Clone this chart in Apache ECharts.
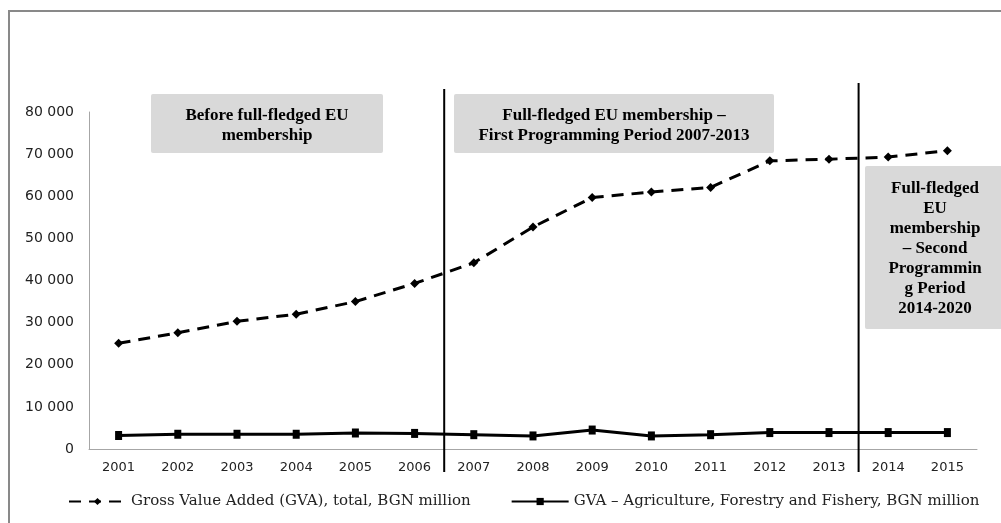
<!DOCTYPE html>
<html><head><meta charset="utf-8">
<script src="https://cdn.jsdelivr.net/npm/echarts@6/dist/echarts.min.js"></script>
<style>html,body{margin:0;padding:0;background:#fff}#c{width:1001px;height:523px}</style>
</head><body><div id="c"></div>
<script>
const years = ['2001','2002','2003','2004','2005','2006','2007','2008','2009','2010','2011','2012','2013','2014','2015'];
const gvaTotal = [25100, 27600, 30300, 32000, 35000, 39300, 44200, 52700, 59700, 61000, 62100, 68400, 68800, 69300, 70800];
const gvaAgri = [3200, 3500, 3500, 3500, 3800, 3700, 3400, 3100, 4500, 3100, 3400, 3900, 3900, 3900, 3900];
const seriesNames = ['Gross Value Added (GVA), total, BGN million', 'GVA \u2013 Agriculture, Forestry and Fishery, BGN million'];
const periodLabels = ['Before full-fledged EU\nmembership', 'Full-fledged EU membership \u2013\nFirst Programming Period 2007-2013', 'Full-fledged\nEU\nmembership\n\u2013 Second\nProgrammin\ng Period\n2014-2020'];
const periodBreaks = [['2006','2007'], ['2013','2014']];

const chart = echarts.init(document.getElementById('c'), null, {renderer:'canvas'});
const sansFont = 'DejaVu Sans';
const serifFont = 'DejaVu Serif';
const option = {
  animation: false,
  backgroundColor: '#fff',
  grid: {left: 89, right: 24, top: 112, bottom: 74, containLabel: false},
  legend: {
    left: 63, top: 489, itemWidth: 57, itemHeight: 9, itemGap: 40,
    textStyle: {fontFamily: serifFont, fontSize: 15, color: '#222'},
    data: seriesNames
  },
  xAxis: {
    type: 'category', data: years, boundaryGap: true,
    axisLine: {lineStyle: {color: '#a6a6a6', width: 1}},
    axisTick: {show: false},
    axisLabel: {fontFamily: sansFont, fontSize: 13, color: '#222', margin: 12}
  },
  yAxis: {
    type: 'value', min: 0, max: 80000, interval: 10000,
    axisLine: {show: true, lineStyle: {color: '#a6a6a6', width: 1}},
    axisTick: {show: false},
    splitLine: {show: false},
    axisLabel: {fontFamily: sansFont, fontSize: 14, color: '#222', margin: 15,
      formatter: v => String(v).replace(/\B(?=(\d{3})+(?!\d))/g, ' ')}
  },
  series: [
    {name: seriesNames[0], type: 'line', data: gvaTotal, symbol: 'diamond', symbolSize: 9,
     lineStyle: {color: '#000', width: 3, type: [12, 8]}, itemStyle: {color: '#000'}},
    {name: seriesNames[1], type: 'line', data: gvaAgri, symbol: 'rect', symbolSize: [7, 9],
     lineStyle: {color: '#000', width: 3}, itemStyle: {color: '#000'}}
  ]
};
chart.setOption(option);

function xBetween(a, b) {
  const pa = chart.convertToPixel({xAxisIndex: 0}, a);
  const pb = chart.convertToPixel({xAxisIndex: 0}, b);
  return (pa + pb) / 2;
}
const x1 = xBetween(periodBreaks[0][0], periodBreaks[0][1]);
const x2 = xBetween(periodBreaks[1][0], periodBreaks[1][1]);
const boxText = {fontFamily: 'Liberation Serif', fontWeight: 'bold', fontSize: 17, fill: '#000', lineHeight: 20, align: 'center', verticalAlign: 'middle'};
chart.setOption({
  graphic: [
    {type: 'rect', shape: {x: 9, y: 11, width: 1010, height: 530}, style: {fill: 'none', stroke: '#898989', lineWidth: 2}, silent: true},
    {type: 'line', shape: {x1: x1, y1: 89, x2: x1, y2: 472}, style: {stroke: '#000', lineWidth: 2}, z: 10},
    {type: 'line', shape: {x1: x2, y1: 83, x2: x2, y2: 472}, style: {stroke: '#000', lineWidth: 2}, z: 10},
    {type: 'rect', shape: {x: 151, y: 94, width: 232, height: 59, r: 2}, style: {fill: '#d9d9d9'}, z: 5},
    {type: 'text', x: 267, y: 126, style: Object.assign({text: periodLabels[0]}, boxText), z: 6},
    {type: 'rect', shape: {x: 454, y: 94, width: 320, height: 59, r: 2}, style: {fill: '#d9d9d9'}, z: 5},
    {type: 'text', x: 614, y: 126, style: Object.assign({text: periodLabels[1]}, boxText), z: 6},
    {type: 'rect', shape: {x: 865, y: 166, width: 140, height: 163, r: 2}, style: {fill: '#d9d9d9'}, z: 5},
    {type: 'text', x: 935, y: 249, style: Object.assign({text: periodLabels[2]}, boxText), z: 6}
  ]
});
</script></body></html>
